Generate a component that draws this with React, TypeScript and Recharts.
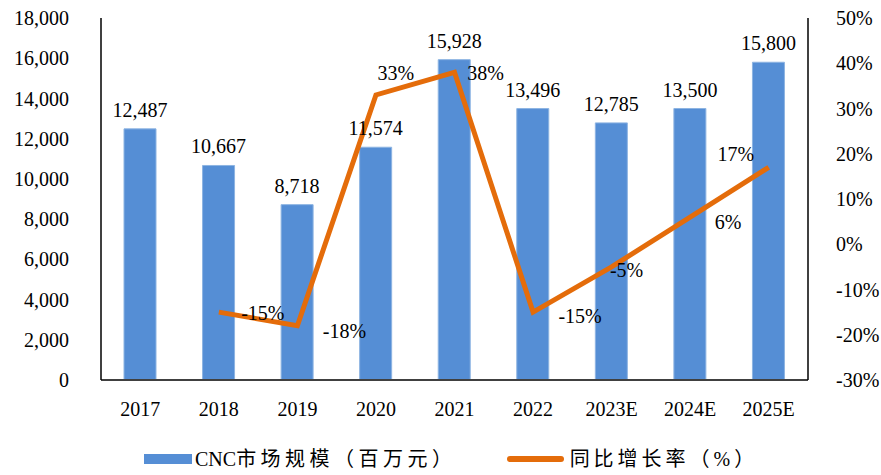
import React from 'react';
import { ComposedChart, Bar, Line, XAxis, YAxis, Legend, LabelList } from 'recharts';

const categories = ['2017', '2018', '2019', '2020', '2021', '2022', '2023E', '2024E', '2025E'];
const marketSize = [12487, 10667, 8718, 11574, 15928, 13496, 12785, 13500, 15800];
const growthRate: (number | null)[] = [null, -15, -18, 33, 38, -15, -5, 6, 17];
const leftTicks = [0, 2000, 4000, 6000, 8000, 10000, 12000, 14000, 16000, 18000];
const rightTicks = [-30, -20, -10, 0, 10, 20, 30, 40, 50];

const barName = 'CNC市场规模（百万元）';
const lineName = '同比增长率（%）';

const data = categories.map((c, i) => ({ name: c, size: marketSize[i], rate: growthRate[i] }));

const FONT = '"Liberation Serif", "Noto Sans CJK SC", serif';
const BLUE = '#558ED5';
const ORANGE = '#E46C0A';

// label offsets (dx, dy) relative to each line point
const rateLabelOffsets: Record<string, [number, number]> = {
  '2018': [44, 1],
  '2019': [47, 5],
  '2020': [20, -22],
  '2021': [31, 1],
  '2022': [47, 4],
  '2023E': [15, 3],
  '2024E': [38, 5],
  '2025E': [-33, -13],
};

const RateLabel = (props: any) => {
  const { x, y, value, index } = props;
  if (value === null || value === undefined) return null;
  const off = rateLabelOffsets[categories[index]] || [0, 0];
  return (
    <text x={x + off[0]} y={y + off[1]} textAnchor="middle" dominantBaseline="central" fontSize={20} fontFamily={FONT} fill="#000">
      {`${value}%`}
    </text>
  );
};

const LegendContent = () => (
  <div style={{ display: 'flex', justifyContent: 'flex-start', alignItems: 'center', fontFamily: FONT, fontSize: 20, color: '#000', paddingLeft: 144, paddingTop: 20, lineHeight: '28px' }}>
    <span style={{ display: 'inline-block', width: 48, height: 10, background: BLUE, marginRight: 3 }} />
    <span>{barName.slice(0, 3)}</span>
    <span style={{ letterSpacing: 4.5 }}>{barName.slice(3)}</span>
    <span style={{ display: 'inline-block', width: 57, height: 6, background: ORANGE, borderRadius: 3, marginLeft: 50, marginRight: 6 }} />
    <span style={{ letterSpacing: 4 }}>{lineName}</span>
  </div>
);

export default function App() {
  return (
    <div style={{ position: 'absolute', left: 0, top: 0, background: '#fff' }}>
      <ComposedChart width={881} height={475} data={data} margin={{ top: 18, right: 0, left: 0, bottom: 10 }}>
        <XAxis
          dataKey="name"
          tick={{ fontSize: 20, fontFamily: FONT, fill: '#000' }}
          tickLine={false}
          axisLine={{ stroke: '#404040', strokeWidth: 2 }}
          tickMargin={16}
          height={45}
          interval={0}
        />
        <YAxis
          yAxisId="left"
          width={101}
          domain={[0, 18000]}
          ticks={leftTicks}
          interval={0}
          tickFormatter={(v: number) => v.toLocaleString('en-US')}
          tick={{ fontSize: 20, fontFamily: FONT, fill: '#000' }}
          tickLine={false}
          axisLine={{ stroke: '#000', strokeWidth: 1.5 }}
          tickMargin={26}
        />
        <YAxis
          yAxisId="right"
          orientation="right"
          width={73}
          domain={[-30, 50]}
          ticks={rightTicks}
          interval={0}
          tickFormatter={(v: number) => `${v}%`}
          tick={{ fontSize: 20, fontFamily: FONT, fill: '#000' }}
          tickLine={false}
          axisLine={{ stroke: '#000', strokeWidth: 1.5 }}
          tickMargin={22}
        />
        <Legend verticalAlign="bottom" height={40} content={<LegendContent />} />
        <Bar yAxisId="left" dataKey="size" name={barName} fill={BLUE} stroke="#8DB4E2" strokeWidth={1} barSize={32} isAnimationActive={false}>
          <LabelList
            dataKey="size"
            position="top"
            offset={12}
            formatter={(v: any) => Number(v).toLocaleString('en-US')}
            style={{ fontSize: 20, fontFamily: FONT, fill: '#000' }}
          />
        </Bar>
        <Line
          yAxisId="right"
          dataKey="rate"
          name={lineName}
          stroke={ORANGE}
          strokeWidth={5}
          dot={false}
          activeDot={false}
          connectNulls={false}
          isAnimationActive={false}
        >
          <LabelList dataKey="rate" content={<RateLabel />} />
        </Line>
      </ComposedChart>
    </div>
  );
}
